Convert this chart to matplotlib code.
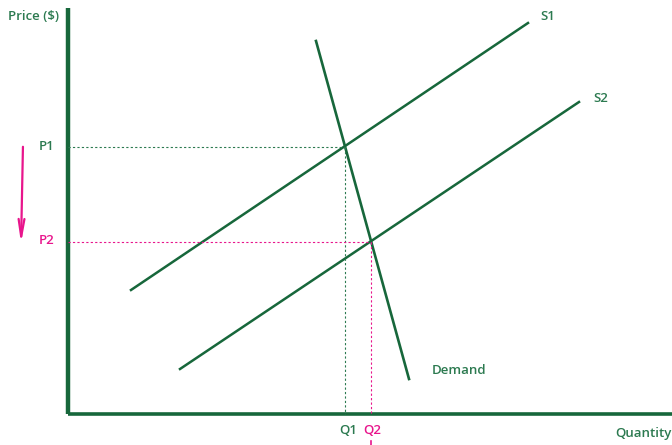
import matplotlib.pyplot as plt

plt.rcParams['font.family'] = ['Open Sans', 'DejaVu Sans']

# Chart in pixel-like coordinates (origin at top-left of the image)
green = '#17673b'
text_green = '#2c7a50'
pink = '#e8158c'

axis_origin = (68, 414)
axis_top = 8
axis_right = 672

s1_x = [131, 528]
s1_y = [290, 23]
s2_x = [180, 579]
s2_y = [369, 102]
demand_x = [316, 409]
demand_y = [41, 379]

q1, p1 = 345, 147
q2, p2 = 371, 242

fig = plt.figure(figsize=(6.72, 4.45), dpi=100)
ax = fig.add_axes([0, 0, 1, 1])
ax.set_xlim(0, 672)
ax.set_ylim(445, 0)
ax.axis('off')

# axes
ax.plot([axis_origin[0], axis_origin[0]], [axis_top, axis_origin[1]], color=green, lw=3.2, solid_capstyle='butt')
ax.plot([axis_origin[0], axis_right], [axis_origin[1], axis_origin[1]], color=green, lw=2.6, solid_capstyle='butt')

# curves
ax.plot(s1_x, s1_y, color=green, lw=1.8)
ax.plot(s2_x, s2_y, color=green, lw=1.8)
ax.plot(demand_x, demand_y, color=green, lw=1.9)

# equilibrium guides
dash = (0, (2, 2))
ax.plot([axis_origin[0], q1], [p1, p1], color=text_green, lw=0.8, ls=dash)
ax.plot([q1, q1], [p1, axis_origin[1]], color=text_green, lw=0.8, ls=dash)
ax.plot([axis_origin[0], q2], [p2, p2], color=pink, lw=0.8, ls=dash)
ax.plot([q2, q2], [p2, axis_origin[1]], color=pink, lw=0.8, ls=dash)

# labels
fs = 9.5
kw = dict(fontsize=fs, fontweight='semibold', va='center')
ax.text(8, 17, 'Price ($)', color=text_green, ha='left', **kw)
ax.text(39, 147, 'P1', color=text_green, ha='left', **kw)
ax.text(39, 241, 'P2', color=pink, ha='left', **kw)
ax.text(348, 430, 'Q1', color=text_green, ha='center', **kw)
ax.text(372, 430, 'Q2', color=pink, ha='center', **kw)
ax.text(615, 433, 'Quantity', color=text_green, ha='left', **kw)
ax.text(540, 16, 'S1', color=text_green, ha='left', **kw)
ax.text(593, 99, 'S2', color=text_green, ha='left', **kw)
ax.text(432, 370, 'Demand', color=text_green, ha='left', **kw)

# price drop arrow
ax.annotate('', xy=(21, 246), xytext=(23, 144),
            arrowprops=dict(arrowstyle='->,head_length=0.9,head_width=0.15',
                            color=pink, lw=1.6, mutation_scale=14))
ax.plot([371, 371], [441, 445], color=pink, lw=1.2)

fig.savefig('out.png', dpi=100)
